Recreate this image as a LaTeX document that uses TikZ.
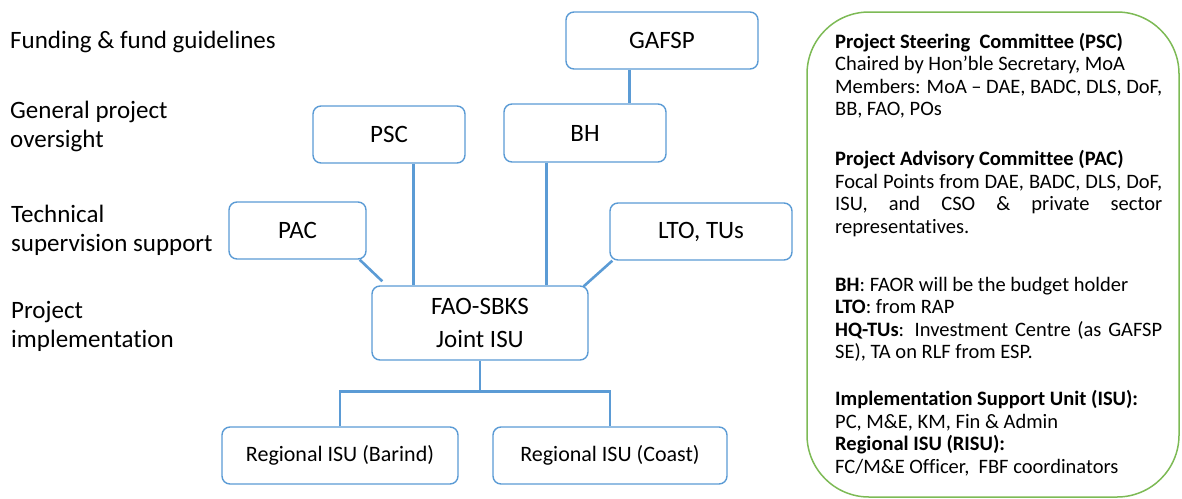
\documentclass[tikz,border=0pt]{standalone}
\usepackage{fontspec}
\setmainfont{Carlito}[Ligatures=NoCommon]
\usetikzlibrary{calc}
\definecolor{boxblue}{HTML}{5B9BD5}
\definecolor{panelgreen}{HTML}{7DBA55}
\newcommand\justline[1]{\makebox[\linewidth][s]{#1}}
\begin{document}
\begin{tikzpicture}[x=1pt,y=-1pt,
  orgbox/.style={draw=boxblue, line width=1.4pt, rounded corners=8pt, fill=white, inner sep=0pt, align=center, font=\fontsize{25}{33}\selectfont},
  smallbox/.style={orgbox, font=\fontsize{22}{26}\selectfont},
  link/.style={draw=boxblue, line width=2.6pt},
  lbl/.style={anchor=base west, inner sep=0pt, font=\fontsize{25}{29}\selectfont},
]
\path[use as bounding box] (0,0) rectangle (1182,498);

% left level labels
\node[lbl] (l1) at (10,48) {Funding \& fund guidelines};
\node[lbl] (l2) at (10,118) {\parbox[t]{300pt}{General project\\oversight}};
\node[lbl] (l3) at (11,222) {\parbox[t]{300pt}{Technical\\supervision support}};
\node[lbl] (l4) at (11,318) {\parbox[t]{300pt}{Project\\implementation}};

% boxes
\node[orgbox, minimum width=192pt, minimum height=57pt] (gafsp) at (662,40.5) {GAFSP};
\node[orgbox, minimum width=152pt, minimum height=57pt] (psc) at (389,134.5) {PSC};
\node[orgbox, minimum width=162pt, minimum height=58pt] (bh) at (585,133) {BH};
\node[orgbox, minimum width=137pt, minimum height=57pt] (pac) at (297.5,230.5) {PAC};
\node[orgbox, minimum width=182pt, minimum height=57pt] (lto) at (701,231.5) {LTO, TUs};
\node[orgbox, minimum width=216pt, minimum height=74pt] (fao) at (480,323) {FAO-SBKS\\Joint ISU};
\node[smallbox, minimum width=236pt, minimum height=57pt] (barind) at (340,455.5) {Regional ISU (Barind)};
\node[smallbox, minimum width=234pt, minimum height=57pt] (coast) at (610,455.5) {Regional ISU (Coast)};

% connectors
\coordinate (g1) at ($(gafsp.south west)!0.333!(gafsp.south east)$);
\draw[link] (g1) -- (g1 |- bh.north);
\coordinate (p1) at ($(psc.south west)!0.658!(psc.south east)$);
\draw[link] (p1) -- (p1 |- fao.north);
\coordinate (b1) at ($(bh.south west)!0.265!(bh.south east)$);
\draw[link] (b1) -- (b1 |- fao.north);
\draw[link] ([xshift=-7pt]pac.south east) -- ([xshift=11pt,yshift=4pt]fao.north west);
\draw[link] ([xshift=3pt]lto.south west) -- ([xshift=-5pt,yshift=-1pt]fao.north east);
\coordinate (j) at ($(fao.south)+(0,31)$);
\draw[link] (fao.south) -- (j);
\draw[link] (barind.north) |- (j) -| (coast.north);

% right panel
\draw[panelgreen, line width=1.5pt, rounded corners=62pt] (807,12) rectangle (1179,497);
\node[anchor=base west, inner sep=0pt, font=\fontsize{20.5}{22.5}\selectfont] (panel) at (835,48) {\parbox[t]{327pt}{%
\textbf{Project Steering\ \ Committee (PSC)}\\
Chaired by Hon’ble Secretary, MoA\\
\justline{Members: MoA – DAE, BADC, DLS, DoF,}\\
BB, FAO, POs\\[27.5pt]
\textbf{Project Advisory Committee (PAC)}\\
\justline{Focal Points from DAE, BADC, DLS, DoF,}\\
\justline{ISU, and CSO \& private sector}\\
representatives.\\[35.5pt]
\textbf{BH}: FAOR will be the budget holder\\
\textbf{LTO}: from RAP\\
\justline{\textbf{HQ-TUs}: Investment Centre (as GAFSP}\\
SE), TA on RLF from ESP.\\[24.5pt]
\textbf{Implementation Support Unit (ISU):}\\
PC, M\&E, KM, Fin \& Admin\\
\textbf{Regional ISU (RISU):}\\
FC/M\&E Officer,\ \ FBF coordinators}};
\end{tikzpicture}
\end{document}
